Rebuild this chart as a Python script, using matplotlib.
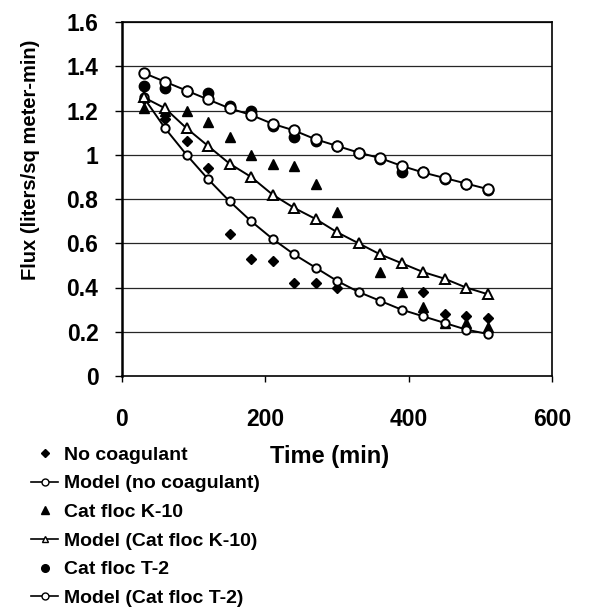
import matplotlib
matplotlib.use("Agg")
import matplotlib.pyplot as plt
from matplotlib.lines import Line2D
from matplotlib.ticker import FuncFormatter

plt.rcParams['font.family'] = ['Liberation Sans', 'DejaVu Sans']

# time points (min)
time = [30, 60, 90, 120, 150, 180, 210, 240, 270, 300, 330, 360, 390, 420, 450, 480, 510]

# no coagulant
no_coag_t = [30, 60, 90, 120, 150, 180, 210, 240, 270, 300, 420, 450, 480, 510]
no_coag = [1.25, 1.16, 1.06, 0.94, 0.64, 0.53, 0.52, 0.42, 0.42, 0.40, 0.38, 0.28, 0.27, 0.26]
model_no_coag = [1.26, 1.12, 1.00, 0.89, 0.79, 0.70, 0.62, 0.55, 0.49, 0.43, 0.38, 0.34, 0.30,
                 0.27, 0.24, 0.21, 0.19]

# cat floc K-10
k10_t = [30, 60, 90, 120, 150, 180, 210, 240, 270, 300, 360, 390, 420, 450, 480, 510]
k10 = [1.21, 1.20, 1.20, 1.15, 1.08, 1.00, 0.96, 0.95, 0.87, 0.74, 0.47, 0.38, 0.31, 0.24, 0.24, 0.22]
model_k10 = [1.26, 1.21, 1.12, 1.04, 0.96, 0.90, 0.82, 0.76, 0.71, 0.65, 0.60, 0.55, 0.51,
             0.47, 0.44, 0.40, 0.37]

# cat floc T-2
t2 = [1.31, 1.30, 1.29, 1.28, 1.22, 1.20, 1.13, 1.08, 1.06, 1.04, 1.01, 0.98, 0.92, 0.92,
      0.89, 0.87, 0.84]
model_t2 = [1.37, 1.33, 1.29, 1.25, 1.21, 1.18, 1.14, 1.11, 1.07, 1.04, 1.01, 0.985, 0.95,
            0.92, 0.895, 0.87, 0.845]

fig = plt.figure(figsize=(5.89, 6.14), dpi=100)
ax = fig.add_axes([122/589, 1-376/614, 430/589, 354/614])

for y in [0.2, 0.4, 0.6, 0.8, 1.0, 1.2, 1.4, 1.6]:
    ax.axhline(y, color='0.15', lw=0.9, zorder=1)

# measured data
ax.plot(no_coag_t, no_coag, 'D', color='k', ms=5, ls='none', zorder=2)
ax.plot(k10_t, k10, '^', color='k', ms=7, ls='none', zorder=2)
ax.plot(time, t2, 'o', color='k', ms=7.5, ls='none', zorder=2)

# model curves
mk = dict(color='k', lw=1.4, mfc='white', mec='k', mew=1.4, zorder=3)
ax.plot(time, model_no_coag, '-o', ms=6, **mk)
ax.plot(time, model_k10, '-^', ms=7, **mk)
ax.plot(time, model_t2, '-o', ms=7.5, **mk)

ax.set_xlim(0, 600)
ax.set_ylim(0, 1.6)
ax.set_xticks([0, 200, 400, 600])
ax.set_yticks([0, 0.2, 0.4, 0.6, 0.8, 1.0, 1.2, 1.4, 1.6])
ax.yaxis.set_major_formatter(FuncFormatter(lambda v, p: '%g' % v))
ax.tick_params(axis='x', length=4, width=1, pad=19, labelsize=16.5)
ax.tick_params(axis='y', length=5, width=1, pad=12, labelsize=16.5)
for lab in ax.get_xticklabels() + ax.get_yticklabels():
    lab.set_fontweight('bold')
for s in ax.spines.values():
    s.set_linewidth(1.2)
ax.spines['left'].set_linewidth(1.8)

ax.set_ylabel('Flux (liters/sq meter-min)', fontsize=14.5, fontweight='bold')
ax.yaxis.set_label_coords(-0.19, 0.61)

fig.text(330/589, 1-456/614, 'Time (min)', fontsize=17, fontweight='bold',
         ha='center', va='center')

handles = [
    Line2D([], [], ls='none', marker='D', color='k', ms=4),
    Line2D([], [], ls='-', marker='o', color='k', lw=1.2, mfc='white', ms=5),
    Line2D([], [], ls='none', marker='^', color='k', ms=5.5),
    Line2D([], [], ls='-', marker='^', color='k', lw=1.2, mfc='white', ms=5),
    Line2D([], [], ls='none', marker='o', color='k', ms=5.5),
    Line2D([], [], ls='-', marker='o', color='k', lw=1.2, mfc='white', ms=5),
]
labels = ['No coagulant', 'Model (no coagulant)', 'Cat floc K-10',
          'Model (Cat floc K-10)', 'Cat floc T-2', 'Model (Cat floc T-2)']
fig.legend(handles, labels, loc='upper left', bbox_to_anchor=(31/589, 1-446/614),
           frameon=False, numpoints=1, handlelength=1.4, handletextpad=0.3,
           labelspacing=0.57, borderpad=0, borderaxespad=0,
           prop={'size': 14, 'weight': 'bold'})

fig.savefig('out.png', dpi=100)
